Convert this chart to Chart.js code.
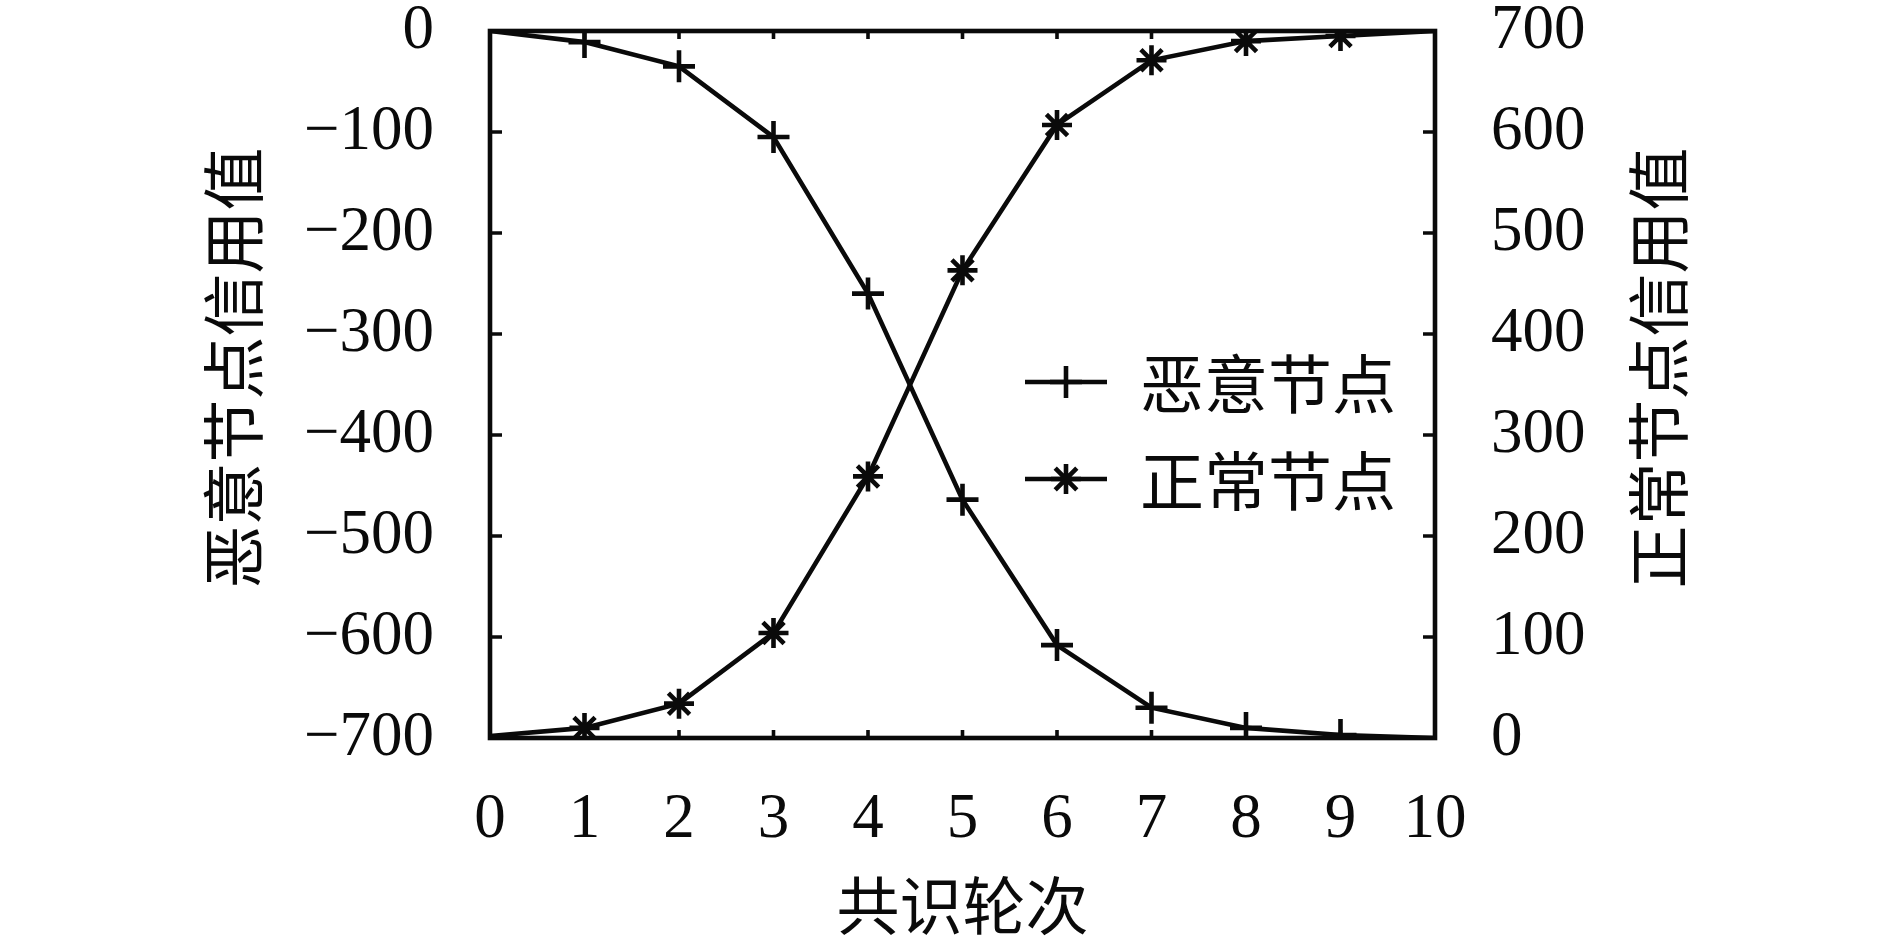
<!DOCTYPE html>
<html>
<head>
<meta charset="utf-8">
<script src="https://cdn.jsdelivr.net/npm/chart.js@4.4.1/dist/chart.umd.min.js"></script>
<style>
  html, body { margin: 0; padding: 0; background: #fff; }
  #wrap { width: 1890px; height: 943px; position: relative; }
</style>
</head>
<body>
<div id="wrap"><canvas id="chart"></canvas></div>
<script>
// values
const rounds = [0, 1, 2, 3, 4, 5, 6, 7, 8, 9, 10];
const maliciousCredit = [0, -11, -35, -105, -260, -464, -608, -670, -690, -697, -700];
const normalCredit = [2, 10, 34, 104, 259, 463, 607, 671, 690, 695, 700];
const seriesNames = ['恶意节点', '正常节点'];
const xTitle = '共识轮次';
const leftTitle = '恶意节点信用值';
const rightTitle = '正常节点信用值';

const INK = '#0a0a0a';
const NUM_FONT = 'Liberation Serif';
const CJK_FONT = '"Noto Sans CJK SC"';
const LW = 4.6;

Chart.defaults.font.family = NUM_FONT;
Chart.defaults.color = INK;

function fmt(v) {
  return v < 0 ? '\u2212' + Math.abs(v) : String(v);
}

// draws a '+' or '*' like gnuplot
function marker(ctx, style, x, y, r) {
  ctx.beginPath();
  ctx.moveTo(x - r, y); ctx.lineTo(x + r, y);
  ctx.moveTo(x, y - r); ctx.lineTo(x, y + r);
  if (style === 'star') {
    const d = r * 0.72;
    ctx.moveTo(x - d, y - d); ctx.lineTo(x + d, y + d);
    ctx.moveTo(x - d, y + d); ctx.lineTo(x + d, y - d);
  }
  ctx.stroke();
}

function vText(ctx, text, x, y) {
  ctx.save();
  ctx.translate(x, y);
  ctx.rotate(-Math.PI / 2);
  ctx.fillText(text, 0, 0);
  ctx.restore();
}

const frame = {
  id: 'frame',
  afterDraw(chart) {
    const { ctx, chartArea: a, scales } = chart;
    ctx.save();
    ctx.strokeStyle = INK;
    ctx.fillStyle = INK;

    // inward ticks on all four sides
    ctx.lineWidth = 3.6;
    ctx.beginPath();
    scales.x.ticks.forEach(t => {
      const px = scales.x.getPixelForValue(t.value);
      ctx.moveTo(px, a.bottom); ctx.lineTo(px, a.bottom - 8);
      ctx.moveTo(px, a.top); ctx.lineTo(px, a.top + 8);
    });
    scales.y.ticks.forEach(t => {
      const py = scales.y.getPixelForValue(t.value);
      ctx.moveTo(a.left, py); ctx.lineTo(a.left + 12, py);
    });
    scales.y2.ticks.forEach(t => {
      const py = scales.y2.getPixelForValue(t.value);
      ctx.moveTo(a.right, py); ctx.lineTo(a.right - 12, py);
    });
    ctx.stroke();

    ctx.lineWidth = LW;
    ctx.strokeRect(a.left, a.top, a.right - a.left, a.bottom - a.top);

    // legend inside the plot
    ctx.font = '64px ' + CJK_FONT;
    ctx.textAlign = 'left';
    ctx.textBaseline = 'middle';
    chart.data.datasets.forEach((ds, i) => {
      const y = 382 + i * 97;
      ctx.lineWidth = LW;
      ctx.beginPath();
      ctx.moveTo(1025, y); ctx.lineTo(1107, y);
      ctx.stroke();
      marker(ctx, ds.pointStyle, 1066, y, ds.pointStyle === 'star' ? 15 : 16);
      ctx.fillText(ds.label, 1140, y + 2);
    });

    // y titles, both read bottom to top
    ctx.font = '63px ' + CJK_FONT;
    ctx.textAlign = 'center';
    vText(ctx, leftTitle, 233, 368);
    vText(ctx, rightTitle, 1658, 368);
    ctx.restore();
  }
};

const hideEnds = c => (c.dataIndex === 0 || c.dataIndex === rounds.length - 1) ? 0 : 16;

new Chart(document.getElementById('chart'), {
  type: 'line',
  data: {
    labels: rounds,
    datasets: [{
      label: seriesNames[0],
      data: rounds.map((r, i) => ({ x: r, y: maliciousCredit[i] })),
      yAxisID: 'y',
      borderColor: INK,
      borderWidth: LW,
      pointStyle: 'cross',
      pointRadius: hideEnds,
      pointBorderWidth: LW,
      pointBorderColor: INK,
      tension: 0,
      fill: false
    }, {
      label: seriesNames[1],
      data: rounds.map((r, i) => ({ x: r, y: normalCredit[i] })),
      yAxisID: 'y2',
      borderColor: INK,
      borderWidth: LW,
      pointStyle: 'star',
      pointRadius: c => hideEnds(c) ? 15 : 0,
      pointBorderWidth: LW,
      pointBorderColor: INK,
      tension: 0,
      fill: false
    }]
  },
  options: {
    responsive: true,
    maintainAspectRatio: false,
    animation: false,
    layout: { padding: { top: 31, left: 0, right: 0, bottom: 0 } },
    plugins: {
      legend: { display: false },
      tooltip: { enabled: false }
    },
    scales: {
      x: {
        type: 'linear',
        min: 0,
        max: 10,
        grid: { display: false },
        border: { display: false },
        ticks: { stepSize: 1, padding: 37, font: { size: 63 }, color: INK, maxRotation: 0 },
        title: {
          display: true,
          text: xTitle,
          color: INK,
          font: { family: CJK_FONT, size: 63 },
          padding: { top: 0, bottom: 0 }
        },
        afterFit(s) { s.height = 205; s.paddingLeft = 0; s.paddingRight = 0; }
      },
      y: {
        position: 'left',
        min: -700,
        max: 0,
        grid: { display: false },
        border: { display: false },
        ticks: { stepSize: 100, padding: 48, font: { size: 63 }, color: INK, callback: v => fmt(v) },
        afterFit(s) { s.width = 490; s.paddingTop = 0; s.paddingBottom = 0; }
      },
      y2: {
        position: 'right',
        min: 0,
        max: 700,
        grid: { display: false },
        border: { display: false },
        ticks: { stepSize: 100, padding: 48, font: { size: 63 }, color: INK, callback: v => fmt(v) },
        afterFit(s) { s.width = 455; s.paddingTop = 0; s.paddingBottom = 0; }
      }
    }
  },
  plugins: [frame]
});
</script>
</body>
</html>
